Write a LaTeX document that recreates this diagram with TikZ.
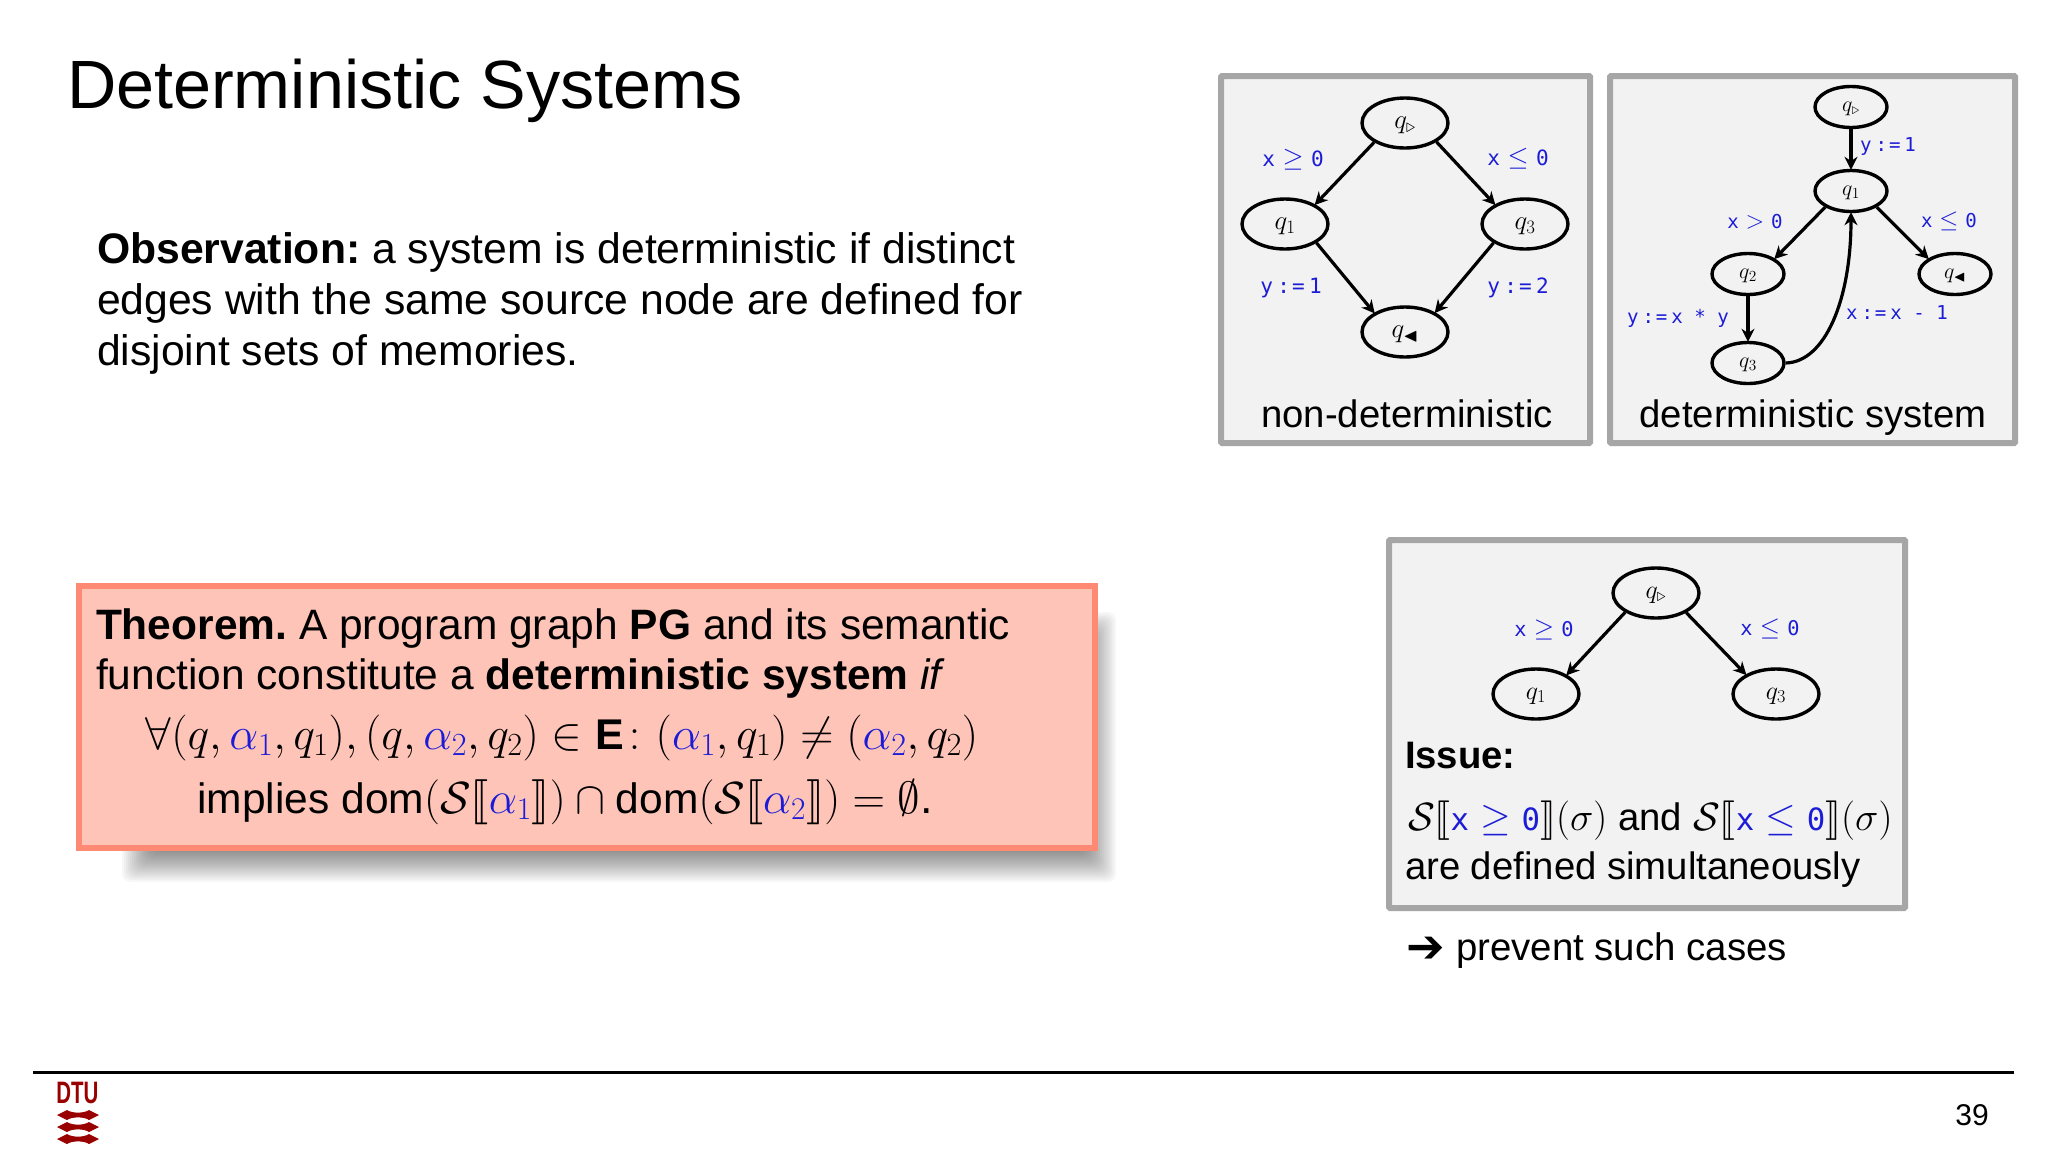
\RequirePackage{fix-cm}
\documentclass[tikz,border=0pt]{standalone}
\DeclareFontFamily{U}{stmry}{}
\DeclareFontShape{U}{stmry}{m}{n}{<-> stmary10}{}
\usepackage{amsmath,amssymb,stmaryrd}
\usepackage[no-math]{fontspec}
\setmainfont{Liberation Sans}
\setmonofont[Scale=0.78]{DejaVu Sans Mono}
\newfontfamily\symfont{DejaVu Sans}
\usetikzlibrary{arrows.meta,shapes.geometric}
\definecolor{lab}{RGB}{28,28,215}
\definecolor{panelfill}{RGB}{242,242,242}
\definecolor{panelline}{RGB}{166,166,166}
\definecolor{thfill}{RGB}{255,196,184}
\definecolor{thline}{RGB}{255,138,115}
\definecolor{dtu}{RGB}{153,0,0}
\newcommand{\fs}[1]{\fontsize{#1}{#1}\selectfont}
\newcommand{\ml}[1]{\textcolor{lab}{\texttt{#1}}}
\newcommand{\lgeq}{\ml{x}$\;\textcolor{lab}{\geq}\;$\ml{0}}
\newcommand{\lleq}{\ml{x}$\;\textcolor{lab}{\leq}\;$\ml{0}}
\newcommand{\lgt}{\ml{x}$\;\textcolor{lab}{>}\;$\ml{0}}
\newcommand{\las}[2]{\ml{#1}\hspace{.16em}\ml{:}\hspace{.08em}\ml{=}\hspace{.16em}\ml{#2}}
\newcommand{\qstart}{$q_{\triangleright}$}
\newcommand{\qend}{$q_{\blacktriangleleft}$}
\newcommand{\al}[1]{\textcolor{lab}{\alpha_{#1}}}
\tikzset{
  x=1pt,y=-1pt,
  panel/.style={draw=panelline,fill=panelfill,line width=6pt,rounded corners=1pt,inner sep=0,outer sep=0},
  stbig/.style={draw,ellipse,line width=3.4pt,minimum width=86pt,minimum height=50pt,inner sep=0,font=\fs{27},text height=14pt,text depth=4pt},
  stmid/.style={draw,ellipse,line width=3.4pt,minimum width=86pt,minimum height=50pt,inner sep=0,font=\fs{26},text height=14pt,text depth=4pt},
  stsmall/.style={draw,ellipse,line width=3.4pt,minimum width=72pt,minimum height=41pt,inner sep=0,font=\fs{22},text height=13pt,text depth=4pt},
  edge/.style={line width=3.2pt,-{Stealth[length=13pt,width=13pt]},shorten >=-1pt},
  txt/.style={anchor=base west,inner sep=0,outer sep=0,align=left},
  ctr/.style={anchor=center,inner sep=0,outer sep=0},
  labbig/.style={ctr,font=\fs{27}},
  labmid/.style={ctr,font=\fs{26}},
  labsmall/.style={ctr,font=\fs{24.5}},
}
\begin{document}
\frenchspacing
\begin{tikzpicture}
\useasboundingbox (0,0) rectangle (2048,1152);
\fill[white] (0,0) rectangle (2048,1152);

% title and observation
\node[txt,font=\fs{68.3}] (title) at (67,108) {Deterministic Systems};
\node[txt,font=\fs{42.7}] (obs1) at (97,263) {\textbf{Observation:} a system is deterministic if distinct};
\node[txt,font=\fs{42.7}] (obs2) at (97,314) {edges with the same source node are defined for};
\node[txt,font=\fs{42.7}] (obs3) at (97,365) {disjoint sets of memories.};

% theorem shadow
\foreach \i in {0,...,15}{
  \fill[black,opacity=.033,rounded corners=8pt] (122+2*\i,612+2*\i) rectangle (1116-2*\i,882-2*\i);
}
\node[draw=thline,fill=thfill,line width=6pt,inner sep=0,minimum width=1016pt,minimum height=262pt] (thm) at (586.5,716.5) {};
\node[txt,font=\fs{42.5}] (t1) at (96,639) {\textbf{Theorem.} A program graph \textbf{PG} and its semantic};
\node[txt,font=\fs{42.5}] (t2) at (96,689) {function constitute a \textbf{deterministic system} \textit{if}};
\node[ctr,anchor=base,font=\fs{46}] (t3) at (562,749) {$\forall(q,\al{1},q_1),(q,\al{2},q_2)\in\text{\fs{43}\textbf{E}}\colon(\al{1},q_1)\neq(\al{2},q_2)$};
\node[ctr,anchor=base,font=\fs{45}] (t4) at (565,813) {{\fs{42.5}implies dom}$(\mathcal{S}\llbracket\al{1}\rrbracket)\cap{}${\fs{42.5}dom}$(\mathcal{S}\llbracket\al{2}\rrbracket)=\emptyset$.};

% panel 1
\node[panel,minimum width=369pt,minimum height=367pt] (p1) at (1405.5,259.5) {};
\node[stbig] (a0) at (1405,123) {\qstart};
\node[stbig] (a1) at (1285,224) {$q_1$};
\node[stbig] (a3) at (1525,224) {$q_3$};
\node[stbig] (a4) at (1405,332) {\qend};
\draw[edge] (a0.212) -- (a1.33);
\draw[edge] (a0.-31) -- (a3.147);
\draw[edge] (a1.-31) -- (a4.148);
\draw[edge] (a3.211) -- (a4.33);
\node[labbig] (la1) at (1293,160) {\lgeq};
\node[labbig] (la2) at (1518,159) {\lleq};
\node[labbig] (la3) at (1291,288) {\las{y}{1}};
\node[labbig] (la4) at (1518,288) {\las{y}{2}};
\node[ctr,anchor=base,font=\fs{38.3}] (pc1) at (1407,427) {non-deterministic};

% panel 2
\node[panel,minimum width=405pt,minimum height=367pt] (p2) at (1812.5,259.5) {};
\node[stsmall] (b0) at (1851,107) {\qstart};
\node[stsmall] (b1) at (1851,191) {$q_1$};
\node[stsmall] (b2) at (1748,274) {$q_2$};
\node[stsmall] (b3) at (1748,363) {$q_3$};
\node[stsmall] (b4) at (1955,274) {\qend};
\draw[edge] (b0) -- (b1);
\draw[edge] (b1.212) -- (b2.30);
\draw[edge] (b1.-32) -- (b4.150);
\draw[edge] (b2) -- (b3);
\draw[edge] (b3.east) .. controls (1825,362) and (1851,300) .. (b1.south);
\node[labsmall] (lb1) at (1888,147) {\las{y}{1}};
\node[labsmall] (lb2) at (1755,222) {\lgt};
\node[labsmall] (lb3) at (1949,221) {\lleq};
\node[labsmall] (lb4) at (1678,318) {\las{y}{x * y}};
\node[labsmall] (lb5) at (1897,313) {\las{x}{x - 1}};
\node[ctr,anchor=base,font=\fs{38.3}] (pc2) at (1813,427) {deterministic system};

% panel 3
\node[panel,minimum width=516pt,minimum height=368pt] (p3) at (1647,724) {};
\node[stmid] (c0) at (1656,593) {\qstart};
\node[stmid] (c1) at (1536,694) {$q_1$};
\node[stmid] (c3) at (1776,694) {$q_3$};
\draw[edge] (c0.212) -- (c1.32);
\draw[edge] (c0.-33) -- (c3.147);
\node[labmid] (lc1) at (1544,630) {\lgeq};
\node[labmid] (lc2) at (1770,629) {\lleq};
\node[txt,font=\fs{38.3}] (iss) at (1405,768) {\textbf{Issue:}};
\node[txt,font=\fs{39.4}] (iss2) at (1408,830) {$\mathcal{S}\llbracket$\ml{x}$\;\textcolor{lab}{\geq}\;$\ml{0}$\rrbracket(\sigma)$ {\fs{38.3}and} $\mathcal{S}\llbracket$\ml{x}$\;\textcolor{lab}{\leq}\;$\ml{0}$\rrbracket(\sigma)$};
\node[txt,font=\fs{38.3}] (iss3) at (1405,879) {are defined simultaneously};
\node[ctr,font=\fs{46}\symfont\bfseries] (arr) at (1426,950) {➔};
\node[txt,font=\fs{38.4}] (prev) at (1456,960) {prevent such cases};

% footer
\coordinate (fl) at (33,1072);
\coordinate (fr) at (2014,1072);
\draw[line width=3pt] (fl) -- (fr);
\node[ctr,font=\fs{30}] (pg) at (1972,1115) {39};
\node[ctr,font=\bfseries\fs{31},text=dtu,xscale=.66] (dtu) at (77.5,1093) {DTU};
\foreach \yy in {1115,1127,1139}{
  \fill[dtu] (57,\yy) -- (67,\yy-5) .. controls (72,\yy-1.5) and (84,\yy-1.5) .. (89,\yy-5) -- (99,\yy)
     -- (89,\yy+5) .. controls (84,\yy+1.5) and (72,\yy+1.5) .. (67,\yy+5) -- cycle;
}
\end{tikzpicture}
\end{document}
